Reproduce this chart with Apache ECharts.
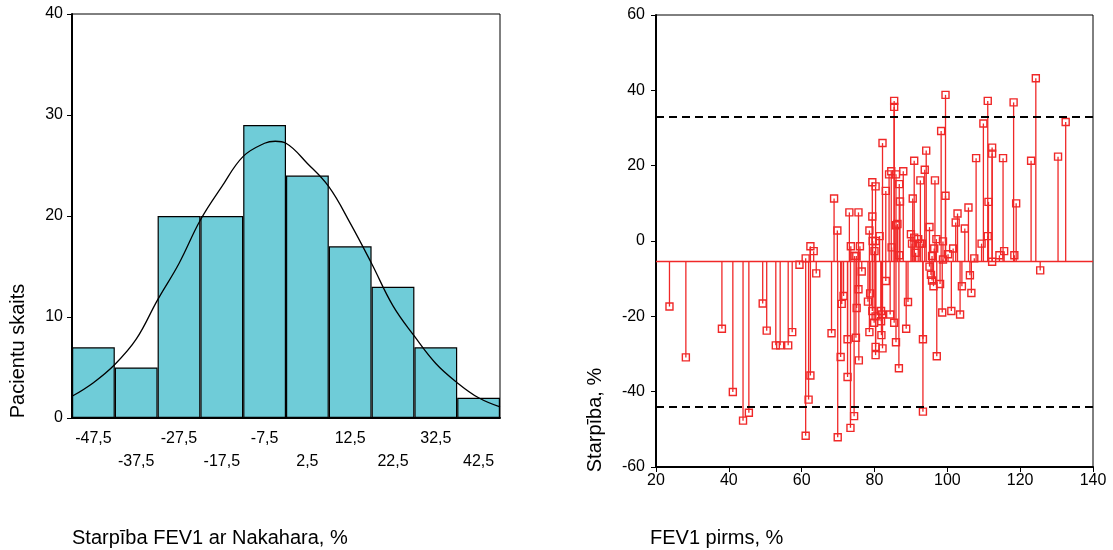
<!DOCTYPE html>
<html>
<head>
<meta charset="utf-8">
<script src="https://cdn.jsdelivr.net/npm/echarts@6/dist/echarts.min.js"></script>
<style>html,body{margin:0;padding:0;background:#fff}#c{width:1113px;height:550px}</style>
</head>
<body>
<div id="c"></div>
<script>
// ---- Histogram data ----
const histCategories = ['-47,5','-37,5','-27,5','-17,5','-7,5','2,5','12,5','22,5','32,5','42,5'];
const histCounts = [7, 5, 20, 20, 29, 24, 17, 13, 7, 2];
const histMin = -52.5, histMax = 47.5;
// normal curve
const curveX = [-52.5,-47.5,-42.5,-37.5,-32.5,-27.5,-22.5,-17.5,-12.5,-7.5,-5,-2.5,2.5,7.5,12.5,17.5,22.5,27.5,32.5,37.5,42.5,47.5];
const curveY = [2.15,3.5,5.3,7.8,11.7,15.3,19.6,22.9,25.9,27.2,27.4,27.2,25.2,22.9,19.3,15.3,11.1,8.1,5.4,3.5,2.0,1.1];

// ---- Difference plot data ----
const fevBefore = [23.7,28.2,38.1,41.1,43.9,45.5,49.3,50.4,52.9,54.1,56.3,57.4,59.4,61.1,61.1,61.9,62.4,62.4,63.3,64.0,
68.2,68.9,69.8,69.9,70.7,71.0,71.5,72.6,72.6,73.1,73.4,73.5,74.4,74.5,74.9,75.1,75.0,75.6,75.6,75.7,
76.0,76.5,78.2,78.6,78.6,78.8,79.4,79.4,79.4,79.5,79.9,80.0,80.3,80.3,80.3,80.3,80.3,81.4,81.8,81.8,
81.9,82.1,82.2,82.2,83.1,83.1,84.0,84.3,84.6,84.7,85.4,85.4,85.4,85.9,85.9,85.9,86.3,86.8,86.8,86.7,
87.0,87.9,88.7,89.2,90.0,90.3,90.5,90.9,90.9,91.3,92.0,92.5,92.6,93.1,93.3,93.3,93.8,94.2,95.1,95.1,
95.5,95.8,95.8,96.2,96.4,96.6,97.0,97.1,98.0,98.3,98.6,98.8,98.8,99.5,99.5,100.2,101.1,101.6,102.3,102.8,
103.5,104.0,104.8,105.8,106.2,106.6,107.4,107.9,109.4,109.9,111.1,111.3,111.1,112.3,112.3,112.3,114.3,115.3,115.6,118.2,
118.9,118.4,123.0,124.3,125.5,130.4,132.5];
const difference = [-17.4,-30.9,-23.3,-40.1,-47.7,-45.6,-16.6,-23.8,-27.7,-27.7,-27.7,-24.2,-6.3,-4.6,-51.7,-42.1,-1.4,-35.7,-2.7,-8.6,
-24.5,11.3,2.8,-52.1,-30.8,-16.7,-14.6,-26.1,-36.1,7.6,-49.6,-1.4,-46.5,-4.0,-25.7,-17.8,-4.0,7.6,-12.8,-31.7,
-1.4,-8.1,-16.1,2.8,-24.2,-13.9,15.6,6.5,-18.6,0,-21.7,-2.7,14.5,0,-20,-28.1,-30.3,1.3,-18.6,-21.3,
-25,-19.5,26,-28.5,13.3,-10.6,17.7,-19.5,18.5,-1.7,37.2,35.6,-21.7,17.7,4.2,-26.9,4.5,15.1,-3.8,-33.8,
10.5,18.5,-23.3,-16.2,1.8,-0.7,11.3,21.3,0.9,-3.1,0.5,-0.7,16.1,-0.7,-26.1,-45.3,18.9,24,3.7,-6.8,
-9,-10.5,-4.0,-12,-2.0,16.1,0.5,-30.6,-11.4,29.2,-19,-0.1,-4.9,38.8,12,-3.5,-18.6,-2,4.9,7.3,
-19.5,-12,3.3,8.9,-9.1,-13.8,-4.6,22,-0.7,31.2,37.2,10.4,1.3,24.8,23.2,-5.5,-3.8,22,-2.7,36.8,
10,-3.8,21.3,43.2,-7.8,22.4,31.6];
const meanDiff = -5.4;
const upperLimit = 33.1;
const lowerLimit = -43.9;

const RED = '#f02828';
const FONT = 'Liberation Sans, Arial, sans-serif';

const chart = echarts.init(document.getElementById('c'), null, {renderer: 'canvas'});

const curveData = curveX.map((x, i) => [x, curveY[i]]);
const diffData = fevBefore.map((x, i) => [x, difference[i]]);

const axisLabelStyle = {color: '#000', fontSize: 16, fontFamily: FONT};

chart.setOption({
  animation: false,
  grid: [
    {left: 72, top: 14, width: 428, height: 404, show: true, borderColor: '#000', borderWidth: 1, backgroundColor: 'transparent'},
    {left: 656, top: 15, width: 437, height: 452, show: true, borderColor: '#000', borderWidth: 1, backgroundColor: 'transparent'}
  ],
  xAxis: [
    {
      type: 'category', gridIndex: 0, data: histCategories,
      boundaryGap: true,
      axisLine: {onZero: false, lineStyle: {color: '#000', width: 2}},
      axisTick: {alignWithLabel: true, length: 5, lineStyle: {color: '#000'}},
      axisLabel: Object.assign({}, axisLabelStyle, {
        interval: 0, margin: 9, lineHeight: 23,
        formatter: (v, i) => (i % 2 === 1 ? '\n' + v : v)
      }),
      splitLine: {show: false}
    },
    {
      type: 'value', gridIndex: 0, min: histMin, max: histMax, show: false,
      axisLine: {show: false, onZero: false}
    },
    {
      type: 'value', gridIndex: 1, min: 20, max: 140, interval: 20,
      axisLine: {onZero: false, lineStyle: {color: '#000', width: 2}},
      axisTick: {length: 5, lineStyle: {color: '#000'}},
      axisLabel: Object.assign({}, axisLabelStyle, {margin: 6}),
      splitLine: {show: false}
    }
  ],
  yAxis: [
    {
      type: 'value', gridIndex: 0, min: 0, max: 40, interval: 10,
      axisLine: {show: true, onZero: false, lineStyle: {color: '#000', width: 2}},
      axisTick: {show: true, length: 5, lineStyle: {color: '#000'}},
      axisLabel: Object.assign({}, axisLabelStyle, {margin: 9}),
      splitLine: {show: false}
    },
    {
      type: 'value', gridIndex: 0, min: 0, max: 40, show: false,
      axisLine: {show: false, onZero: false}
    },
    {
      type: 'value', gridIndex: 1, min: -60, max: 60, interval: 20,
      axisLine: {show: true, onZero: false, lineStyle: {color: '#000', width: 2}},
      axisTick: {show: true, length: 5, lineStyle: {color: '#000'}},
      axisLabel: Object.assign({}, axisLabelStyle, {margin: 11}),
      splitLine: {show: false}
    }
  ],
  graphic: [
    {type: 'text', x: 18, y: 351, rotation: Math.PI / 2,
      style: {text: 'Pacientu skaits', font: '20px ' + FONT, fill: '#000', textAlign: 'center', textVerticalAlign: 'middle'}},
    {type: 'text', x: 72, y: 538,
      style: {text: 'Starpība FEV1 ar Nakahara, %', font: '20px ' + FONT, fill: '#000', textAlign: 'left', textVerticalAlign: 'middle'}},
    {type: 'text', x: 595, y: 420, rotation: Math.PI / 2,
      style: {text: 'Starpība, %', font: '20px ' + FONT, fill: '#000', textAlign: 'center', textVerticalAlign: 'middle'}},
    {type: 'text', x: 650, y: 538,
      style: {text: 'FEV1 pirms, %', font: '20px ' + FONT, fill: '#000', textAlign: 'left', textVerticalAlign: 'middle'}}
  ],
  series: [
    {
      type: 'bar', xAxisIndex: 0, yAxisIndex: 0, data: histCounts,
      barCategoryGap: '0%',
      itemStyle: {color: '#6fccd8', borderColor: '#000', borderWidth: 1.2},
      silent: true
    },
    {
      type: 'line', xAxisIndex: 1, yAxisIndex: 1, data: curveData,
      smooth: 0.4, showSymbol: false, symbol: 'none',
      lineStyle: {color: '#000', width: 1.3}, z: 5, silent: true
    },
    {
      type: 'custom', xAxisIndex: 2, yAxisIndex: 2, data: diffData,
      clip: true, z: 4,
      renderItem: function (params, api) {
        const x = api.value(0), y = api.value(1);
        const p = api.coord([x, y]);
        const b = api.coord([x, meanDiff]);
        return {
          type: 'group',
          children: [
            {type: 'line', shape: {x1: p[0], y1: b[1], x2: p[0], y2: p[1]}, style: {stroke: RED, lineWidth: 1.3}},
            {type: 'rect', shape: {x: p[0] - 3.5, y: p[1] - 3.5, width: 7, height: 7}, style: {fill: null, stroke: RED, lineWidth: 1.4}}
          ]
        };
      },
      markLine: {
        silent: true, symbol: 'none', label: {show: false},
        data: [
          {yAxis: meanDiff, lineStyle: {color: RED, width: 1.3, type: 'solid'}},
          {yAxis: upperLimit, lineStyle: {color: '#000', width: 2, type: [8, 5]}},
          {yAxis: lowerLimit, lineStyle: {color: '#000', width: 2, type: [8, 5]}}
        ]
      }
    }
  ]
});
</script>
</body>
</html>
